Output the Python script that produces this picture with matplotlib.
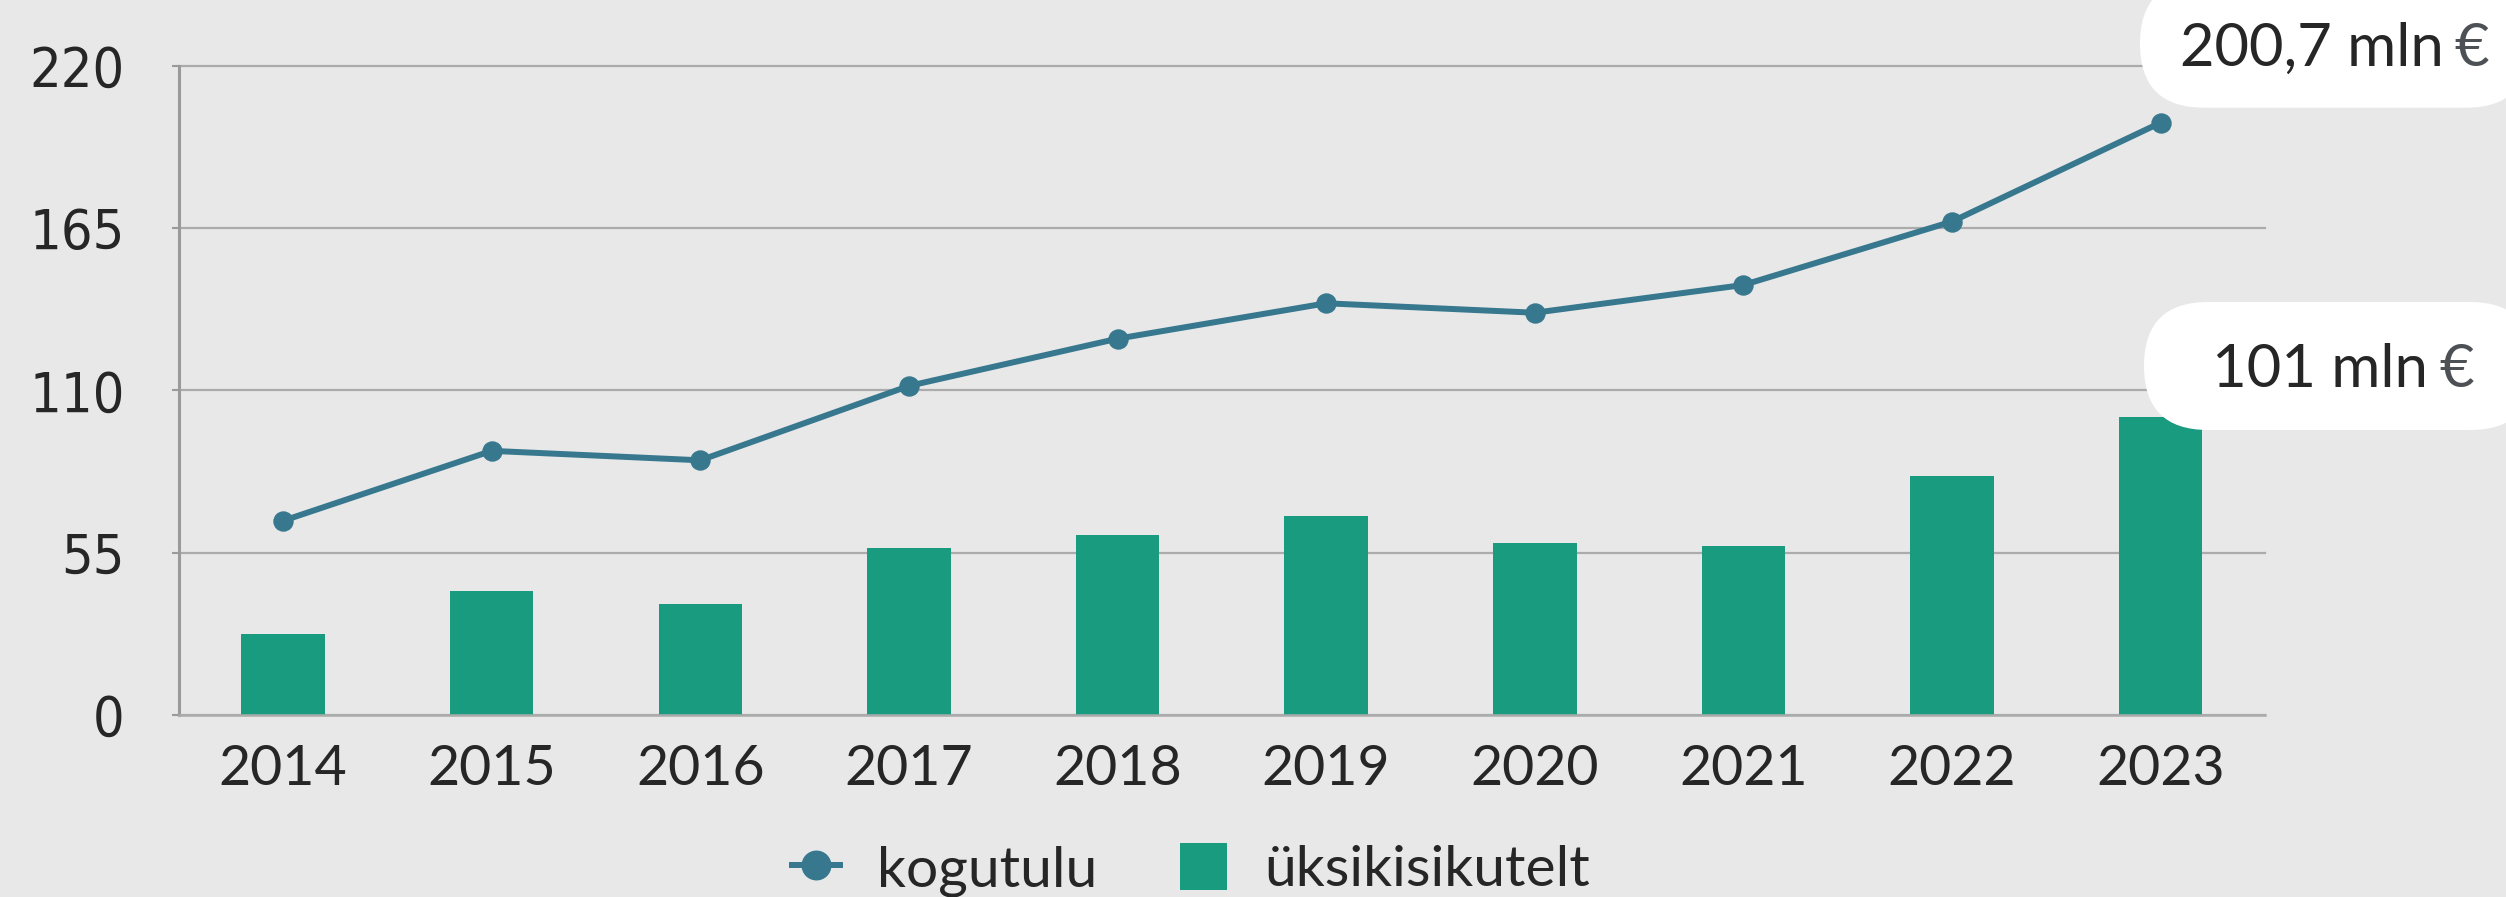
import numpy as np
from matplotlib import pyplot as plt
from matplotlib.patches import FancyBboxPatch
from matplotlib.text import Annotation
from matplotlib.transforms import IdentityTransform

#%% Andmed
years = ['2014', '2015', '2016', '2017', '2018', '2019', '2020', '2021', '2022', '2023']
kogutulu = [65.8, 89.5, 86.3, 111.5, 127.5, 139.5, 136.3, 145.7, 167.2, 200.7]
yksikisikutelt = [27.4, 42.0, 37.6, 56.6, 61.0, 67.4, 58.3, 57.3, 81.0, 101.0]
y_ticks = [0, 55, 110, 165, 220]
unit = 'mln'

#%% Värvid
BG = '#E8E8E8'
LINE_C = '#37788F'
BAR_C = '#199B7F'
GRID_C = '#ABABAB'
SPINE_C = '#9A9A9A'
TEXT_C = '#262626'
EURO_C = '#4D5156'

W, H = 2506, 897
fig = plt.figure(figsize=(W / 100, H / 100), dpi=100, facecolor=BG)
ax = fig.add_axes([178.7 / W, 1 - 715 / H, (2265 - 178.7) / W, (715 - 65.7) / H])
ax.set_facecolor(BG)

x = np.arange(len(years))
ax.plot(x, kogutulu, color=LINE_C, lw=4.3, marker='o', ms=13.7, zorder=3, label='kogutulu')
ax.bar(x, yksikisikutelt, width=0.40, color=BAR_C, zorder=2, label='üksikisikutelt')

ax.set_xlim(-0.5, len(years) - 0.5)
ax.set_ylim(0, 220)
ax.set_xticks(x, years)
ax.set_yticks(y_ticks)

ax.yaxis.grid(True, color=GRID_C, lw=1.6, zorder=0)
for gl in ax.get_ygridlines():
    gl.set_clip_on(False)
ax.set_axisbelow(True)

for s in ['top', 'right']:
    ax.spines[s].set_visible(False)
ax.spines['left'].set_color(SPINE_C)
ax.spines['left'].set_linewidth(2.2)
ax.spines['bottom'].set_color(GRID_C)
ax.spines['bottom'].set_linewidth(1.8)

ax.tick_params(axis='y', length=5, width=1.5, color=SPINE_C, pad=34, labelsize=40, labelcolor=TEXT_C)
ax.tick_params(axis='x', length=0, pad=21, labelsize=40, labelcolor=TEXT_C)
for lab in ax.get_yticklabels():
    lab.set_family('DejaVu Sans')
    lab.set_fontstretch('condensed')
for lab in ax.get_xticklabels():
    lab.set_family('Lato')

#%% Legend
fig.legend(loc='center', bbox_to_anchor=(1191 / W, 1 - 870 / H), ncol=2, frameon=False,
           prop={'family': 'Lato', 'size': 41}, labelcolor=TEXT_C,
           handlelength=0.84, handleheight=0.9, handletextpad=0.65, columnspacing=1.45,
           markerscale=1.5)

#%% Viimase aasta sildid
def fmt(v):
    s = f'{v:.1f}'.replace('.', ',')
    return s[:-2] if s.endswith(',0') else s

callouts = [
    (fmt(kogutulu[-1]), 2140, H - 107.7, 2180, H - 66),
    (fmt(yksikisikutelt[-1]), 2144, H - 430, 2212, H - 387.3),
]
for txt, bx, by, tx, ty in callouts:
    box = FancyBboxPatch((bx, by), 390, 128, boxstyle='round,pad=0,rounding_size=64',
                         transform=IdentityTransform(), facecolor='white', edgecolor='none', zorder=5)
    fig.add_artist(box)
    t1 = fig.text(tx / W, ty / H, f'{txt} {unit}', ha='left', va='baseline',
                  fontsize=43, family='Lato', color=TEXT_C, zorder=6)
    euro = Annotation('€', xy=(1, 0), xycoords=t1, xytext=(8, 0), textcoords='offset points',
                      ha='left', va='bottom', fontsize=43, family='Lato', color=EURO_C,
                      annotation_clip=False, zorder=7)
    fig.add_artist(euro)

fig.savefig('out.png', dpi=100, facecolor=BG)
